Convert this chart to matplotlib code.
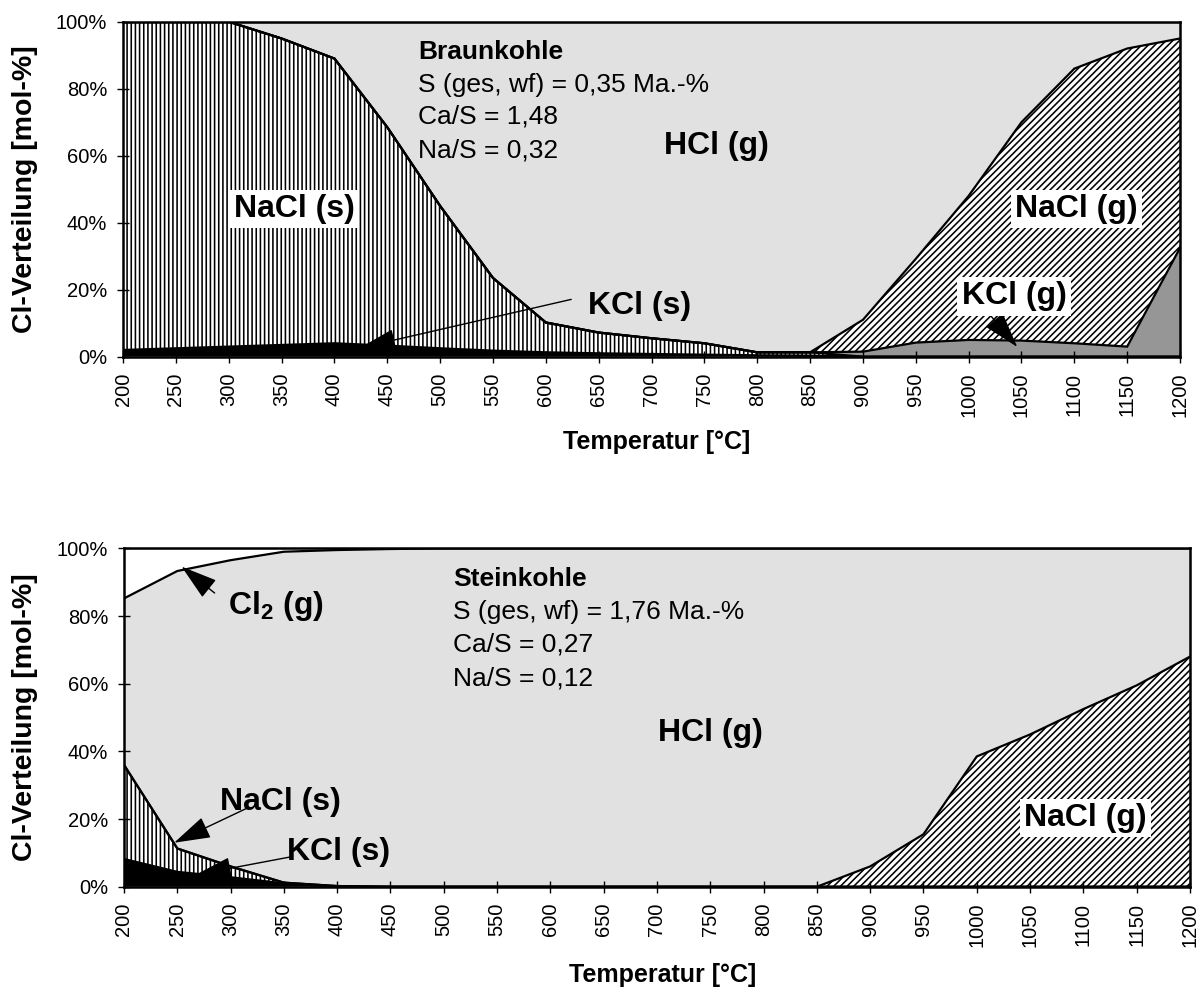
import numpy as np
import matplotlib.pyplot as plt

plt.rcParams["font.family"] = ["Liberation Sans", "DejaVu Sans"]
plt.rcParams["mathtext.fontset"] = "custom"
plt.rcParams["mathtext.rm"] = "Liberation Sans"
plt.rcParams["mathtext.bf"] = "Liberation Sans:bold"
plt.rcParams["hatch.color"] = "black"
plt.rcParams["hatch.linewidth"] = 1.15

TEMPS = list(range(200, 1201, 50))
YTICKS = [0, 20, 40, 60, 80, 100]
YTICK_LABELS = ["0%", "20%", "40%", "60%", "80%", "100%"]

# Braunkohle, Cl-Verteilung in mol-%
BK_KCL_S = [2.0, 2.5, 3.0, 3.5, 4.0, 3.3, 2.5, 1.8, 1.3, 1.0, 0.8, 0.6, 0.4, 0.3, 0, 0, 0, 0, 0, 0, 0]
BK_NACL_S = [98, 97.5, 97, 91.5, 85, 65.2, 42.5, 21.7, 8.9, 6.2, 4.7, 3.4, 0.9, 1.0, 0, 0, 0, 0, 0, 0, 0]
BK_KCL_G = [0, 0, 0, 0, 0, 0, 0, 0, 0, 0, 0, 0, 0, 0, 1.5, 4.2, 5.0, 4.8, 4.0, 3.0, 32.5]
BK_NACL_G = [0, 0, 0, 0, 0, 0, 0, 0, 0, 0, 0, 0, 0, 0, 9.5, 25, 43, 65.2, 82, 89, 62.5]
BK_HCL_G = [0, 0, 0, 5, 11, 31.5, 55, 76.5, 89.8, 92.8, 94.5, 96, 98.7, 98.7, 89, 70.8, 52, 30, 14, 8, 5]

# Steinkohle, Cl-Verteilung in mol-%
SK_KCL_S = [8.2, 4.4, 2.8, 1.0, 0, 0, 0, 0, 0, 0, 0, 0, 0, 0, 0, 0, 0, 0, 0, 0, 0]
SK_NACL_S = [27.8, 6.9, 3.2, 0.2, 0.2, 0, 0, 0, 0, 0, 0, 0, 0, 0, 0, 0, 0, 0, 0, 0, 0]
SK_NACL_G = [0, 0, 0, 0, 0, 0, 0, 0, 0, 0, 0, 0, 0, 0, 6, 15.5, 38.5, 45, 52.5, 59.5, 68]
SK_HCL_G = [49.2, 82.0, 90.5, 97.8, 99.3, 99.8, 100, 100, 100, 100, 100, 100, 100, 100, 94, 84.5, 61.5, 55, 47.5, 40.5, 32]
SK_CL2_G = [14.8, 6.7, 3.5, 1.0, 0.5, 0.2, 0, 0, 0, 0, 0, 0, 0, 0, 0, 0, 0, 0, 0, 0, 0]

LIGHT = "#e1e1e1"
DARK = "#969696"
LABEL_FS = 23
INFO_FS = 19
TICK_FS = 14.5

BOLD = dict(fontsize=LABEL_FS, fontweight="bold", ha="center", va="center", zorder=6)
WHITE_BOX = dict(facecolor="white", edgecolor="none", pad=3)
ARROW = dict(arrowstyle="-|>,head_length=1.05,head_width=0.32", color="black", lw=1,
             shrinkA=0, shrinkB=0, mutation_scale=22)


def draw_stack(ax, layers):
    x = np.array(TEMPS)
    base = np.zeros(len(TEMPS))
    for values, face, hatch in layers:
        top = base + np.array(values, dtype=float)
        ax.fill_between(x, base, top, facecolor=face, hatch=hatch, linewidth=0, zorder=1)
        base = top
    # series outlines on top of all fills
    base = np.zeros(len(TEMPS))
    for values, face, hatch in layers:
        base = base + np.array(values, dtype=float)
        ax.plot(x, base, color="black", lw=1.6, zorder=3, solid_joinstyle="miter")


def style_axes(ax, xlabel_y):
    ax.set_xlim(200, 1200)
    ax.set_ylim(0, 100)
    ax.set_xticks(TEMPS)
    ax.set_xticklabels([str(t) for t in TEMPS], rotation=90, fontsize=TICK_FS)
    ax.set_yticks(YTICKS)
    ax.set_yticklabels(YTICK_LABELS, fontsize=TICK_FS)
    ax.tick_params(direction="inout", length=9, width=1.0, pad=7)
    for sp in ax.spines.values():
        sp.set_linewidth(1.8)
        sp.set_zorder(5)
    ax.set_ylabel("Cl-Verteilung [mol-%]", fontsize=20.5, fontweight="bold", va="center")
    ax.yaxis.set_label_coords(-0.093, 0.5)
    ax.set_xlabel("Temperatur [°C]", fontsize=18, fontweight="bold", va="center")
    ax.xaxis.set_label_coords(0.505, xlabel_y)


def info_block(ax, x, title, lines):
    ax.text(x, 89, title, fontsize=INFO_FS, fontweight="bold", va="baseline", zorder=6)
    for y, line in zip([79, 69.5, 59.5], lines):
        ax.text(x, y, line, fontsize=INFO_FS, va="baseline", zorder=6)


fig = plt.figure(figsize=(11.98, 9.88), dpi=100)
ax1 = fig.add_axes([0.1027, 0.639, 0.8823, 0.339])
ax2 = fig.add_axes([0.1035, 0.1025, 0.8898, 0.3425])

# Braunkohle
draw_stack(ax1, [
    (BK_KCL_S, "black", None),
    (BK_NACL_S, "white", "||||"),
    (BK_KCL_G, DARK, None),
    (BK_NACL_G, "white", "/////"),
    (BK_HCL_G, LIGHT, None),
])
style_axes(ax1, -0.255)
info_block(ax1, 479, "Braunkohle", ["S (ges, wf) = 0,35 Ma.-%", "Ca/S = 1,48", "Na/S = 0,32"])
ax1.text(362, 44, "NaCl (s)", bbox=WHITE_BOX, **BOLD)
ax1.text(761, 63, "HCl (g)", **BOLD)
ax1.text(689, 15, "KCl (s)", **BOLD)
ax1.text(1102, 44, "NaCl (g)", bbox=WHITE_BOX, **BOLD)
ax1.annotate("", xy=(1046, 2.9), xytext=(1008, 17), arrowprops=ARROW, zorder=4)
ax1.text(1043, 18, "KCl (g)", bbox=WHITE_BOX, **BOLD)
ax1.annotate("", xy=(424, 2.6), xytext=(624, 17.1), arrowprops=ARROW, zorder=4)

# Steinkohle
draw_stack(ax2, [
    (SK_KCL_S, "black", None),
    (SK_NACL_S, "white", "||||"),
    (SK_NACL_G, "white", "/////"),
    (SK_HCL_G, LIGHT, None),
    (SK_CL2_G, "white", None),
])
style_axes(ax2, -0.261)
info_block(ax2, 509, "Steinkohle", ["S (ges, wf) = 1,76 Ma.-%", "Ca/S = 0,27", "Na/S = 0,12"])
ax2.text(343, 83, r"Cl$_\mathbf{2}$ (g)", **BOLD)
ax2.annotate("", xy=(254, 94.6), xytext=(285, 86.8), arrowprops=ARROW, zorder=4)
ax2.text(750, 45.4, "HCl (g)", **BOLD)
ax2.text(347, 25.1, "NaCl (s)", **BOLD)
ax2.annotate("", xy=(247, 13), xytext=(316, 23.3), arrowprops=ARROW, zorder=4)
ax2.text(401, 10.3, "KCl (s)", **BOLD)
ax2.annotate("", xy=(267, 3.5), xytext=(356, 8.8), arrowprops=ARROW, zorder=4)
ax2.text(1102, 20.3, "NaCl (g)", bbox=WHITE_BOX, **BOLD)

fig.savefig("out.png", dpi=100)
